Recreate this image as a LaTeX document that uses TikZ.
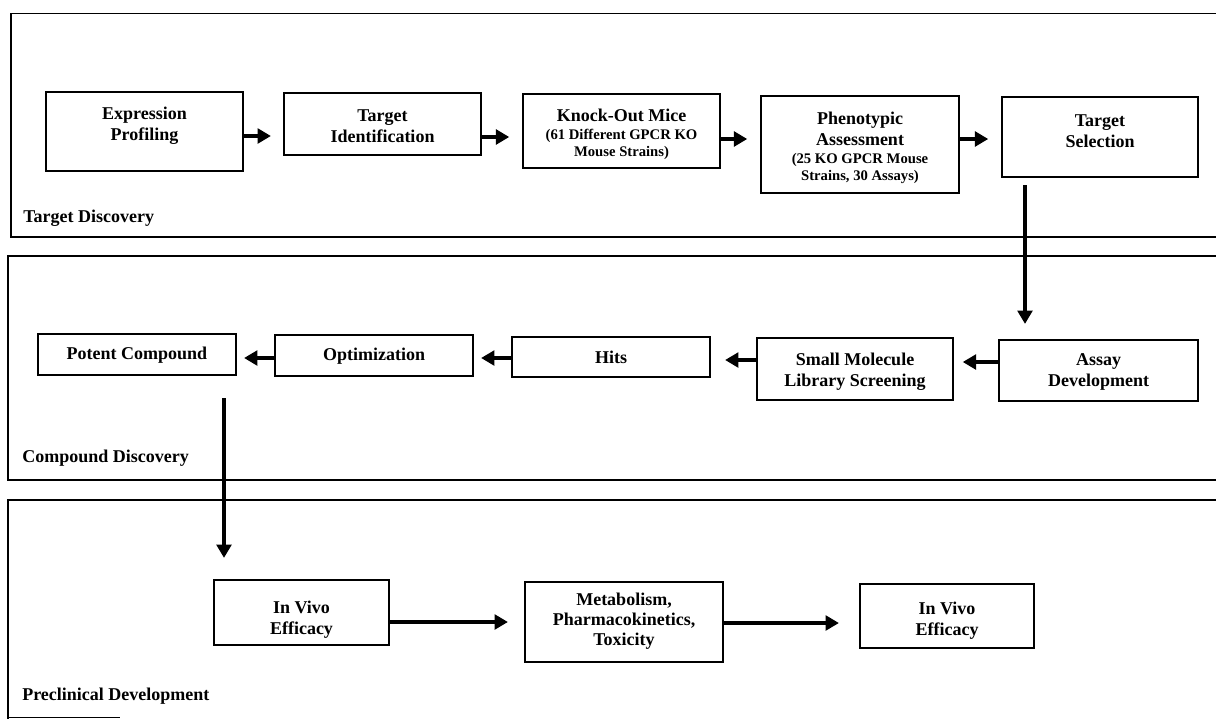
\documentclass[tikz,border=0pt]{standalone}
\usepackage{fontspec}
\setmainfont{Liberation Serif}
\usetikzlibrary{arrows.meta,fit}
\newcommand\bigf{\fontsize{13.5}{16}\selectfont\bfseries}
\newcommand\smallf{\fontsize{11}{12.75}\selectfont\bfseries}
\begin{document}
\begin{tikzpicture}[x=0.75pt,y=-0.75pt,
  panel/.style={line width=1.1pt},
  box/.style={draw, line width=1.6pt, inner sep=0pt},
  txt/.style={align=center, font=\bigf, inner sep=0pt},
  lab/.style={anchor=base west, font=\bigf, inner sep=0pt},
  arr/.style={line width=3.6pt, -{Triangle[length=10pt,width=11pt]}}]
\clip (0,0) rectangle (1216,719);
% panels
\draw[panel] (1230,13.5) -- (11,13.5) -- (11,237) -- (1230,237);
\draw[panel] (1230,256) -- (8,256) -- (8,480) -- (1230,480);
\draw[panel] (1230,500) -- (8,500) -- (8,719);
\draw[panel] (8,717.5) -- (120,717.5);
\node[lab] (l1) at (23,222) {Target Discovery};
\node[lab] (l2) at (22,462) {Compound Discovery};
\node[lab] (l3) at (22,700) {Preclinical Development};
% row 1
\node[box, fit={(46,92) (243,171)}] (ep) {};
\node[box, fit={(284,93) (481,155)}] (ti) {};
\node[box, fit={(523,94) (720,168)}] (ko) {};
\node[box, fit={(761,96) (959,193)}] (ph) {};
\node[box, fit={(1002,97) (1198,177)}] (ts) {};
\node[txt] (ept) at (144.5,125.5) {Expression\\Profiling};
\node[txt] (tit) at (382.5,126) {Target\\Identification};
\node[txt] (kot) at (621.5,134) {Knock-Out Mice\\[-2.5pt]{\smallf (61 Different GPCR KO}\\[-3.25pt]{\smallf Mouse Strains)}};
\node[txt] (pht) at (860,147.5) {Phenotypic\\Assessment\\[-2.5pt]{\smallf (25 KO GPCR Mouse}\\[-3.25pt]{\smallf Strains, 30 Assays)}};
\node[txt] (tst) at (1100,131.5) {Target\\Selection};
% row 2
\node[box, fit={(38,334) (236,375)}] (pc) {};
\node[box, fit={(275,335) (473,376)}] (op) {};
\node[box, fit={(512,337) (710,377)}] (hi) {};
\node[box, fit={(757,338) (953,400)}] (sm) {};
\node[box, fit={(999,340) (1198,401)}] (ad) {};
\node[txt] (pct) at (137,355) {Potent Compound};
\node[txt] (opt) at (374,356) {Optimization};
\node[txt] (hit) at (611,357) {Hits};
\node[txt] (smt) at (855,372) {Small Molecule\\Library Screening};
\node[txt] (adt) at (1098.5,372) {Assay\\Development};
% row 3
\node[box, fit={(214,580) (389,645)}] (iv1) {};
\node[box, fit={(525,582) (723,662)}] (met) {};
\node[box, fit={(860,584) (1034,648)}] (iv2) {};
\node[txt] (iv1t) at (301.5,620) {In Vivo\\Efficacy};
\node[txt] (mett) at (624,621) {Metabolism,\\[-1pt]Pharmacokinetics,\\[-1pt]Toxicity};
\node[txt] (iv2t) at (947,621) {In Vivo\\Efficacy};
% arrows row 1
\draw[arr, shorten >=9pt] (ep.east |- 0,136) -- (ti.west |- 0,136);
\draw[arr, shorten >=9.5pt] (ti.east |- 0,137) -- (ko.west |- 0,137);
\draw[arr, shorten >=9.5pt] (ko.east |- 0,139) -- (ph.west |- 0,139);
\draw[arr, shorten >=9.5pt] (ph.east |- 0,139) -- (ts.west |- 0,139);
% vertical
\draw[arr, shorten <=5.25pt, shorten >=11.25pt] (ts.south -| 1025,0) -- (ad.north -| 1025,0);
% arrows row 2
\draw[arr, shorten >=6.5pt] (ad.west |- 0,362) -- (sm.east |- 0,362);
\draw[arr, shorten >=10.5pt] (sm.west |- 0,360) -- (hi.east |- 0,360);
\draw[arr, shorten >=5.25pt] (hi.west |- 0,358) -- (op.east |- 0,358);
\draw[arr, shorten >=5.25pt] (op.west |- 0,358) -- (pc.east |- 0,358);
% vertical 2
\draw[arr, shorten <=16.5pt, shorten >=15.75pt] (pc.south -| 224,0) -- (iv1.north -| 224,0);
% arrows row 3
\draw[arr, shorten >=12pt] (iv1.east |- 0,622) -- (met.west |- 0,622);
\draw[arr, shorten >=15pt] (met.east |- 0,623) -- (iv2.west |- 0,623);
\end{tikzpicture}
\end{document}
